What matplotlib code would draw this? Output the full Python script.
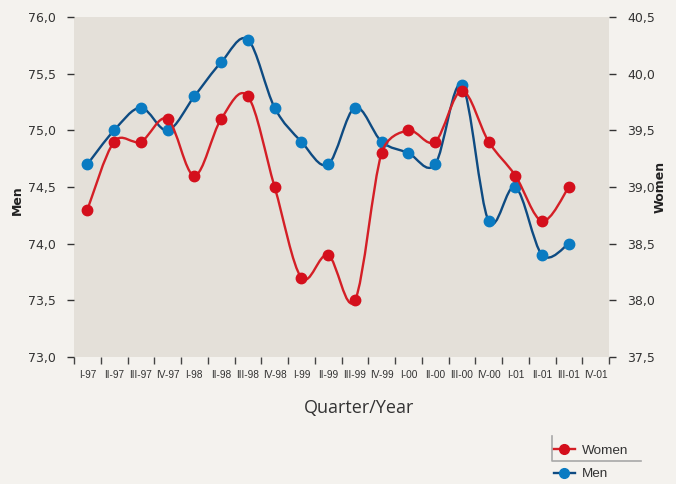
import numpy as np
import matplotlib.pyplot as plt
from matplotlib.path import Path
from matplotlib.patches import PathPatch
from matplotlib.lines import Line2D
from matplotlib.ticker import FuncFormatter, MultipleLocator

quarters = ["I-97", "II-97", "III-97", "IV-97", "I-98", "II-98", "III-98", "IV-98",
            "I-99", "II-99", "III-99", "IV-99", "I-00", "II-00", "III-00", "IV-00",
            "I-01", "II-01", "III-01", "IV-01"]
men = [74.7, 75.0, 75.2, 75.0, 75.3, 75.6, 75.8, 75.2, 74.9, 74.7, 75.2,
       74.9, 74.8, 74.7, 75.4, 74.2, 74.5, 73.9, 74.0]
women = [38.8, 39.4, 39.4, 39.6, 39.1, 39.6, 39.8, 39.0, 38.2, 38.4, 38.0,
         39.3, 39.5, 39.4, 39.85, 39.4, 39.1, 38.7, 39.0]

BG = "#f4f2ee"
PLOT_BG = "#e4e0d9"
RED_LINE = "#d41f26"
RED_MARK = "#d40f1c"
BLUE_LINE = "#0e4b82"
BLUE_MARK = "#0a7bc2"
TXT = "#333333"


def smooth_path(a, xs, ys):
    # excel-style smoothed line: bezier segments, handles limited to half a segment
    pts = a.transData.transform(np.column_stack([xs, ys]))
    n = len(pts)
    verts = [pts[0]]
    codes = [Path.MOVETO]
    for i in range(n - 1):
        p0, p1, p2, p3 = pts[max(i - 1, 0)], pts[i], pts[i + 1], pts[min(i + 2, n - 1)]
        d12 = np.hypot(*(p2 - p1))
        d02 = np.hypot(*(p2 - p0))
        d13 = np.hypot(*(p3 - p1))
        f1 = 1 / 6 if d02 / 6 < d12 / 2 else d12 / (2 * d02)
        f2 = 1 / 6 if d13 / 6 < d12 / 2 else d12 / (2 * d13)
        verts += [p1 + (p2 - p0) * f1, p2 - (p3 - p1) * f2, p2]
        codes += [Path.CURVE4] * 3
    verts = a.transData.inverted().transform(np.array(verts))
    return Path(verts, codes)


fig = plt.figure(figsize=(6.76, 4.84), dpi=100, facecolor=BG)
ax = fig.add_axes([74 / 676, 1 - 357 / 484, 535 / 676, 340 / 484])
ax.set_facecolor(PLOT_BG)
ax2 = ax.twinx()

ax.set_xlim(-0.5, len(quarters) - 0.5)
ax.set_ylim(73.0, 76.0)
ax2.set_ylim(37.5, 40.5)

x = list(range(len(men)))

ax.add_patch(PathPatch(smooth_path(ax, x, men), fill=False, ec=BLUE_LINE, lw=1.7, zorder=2))
ax.plot(x, men, "o", ms=7.5, mfc=BLUE_MARK, mec=BLUE_MARK, zorder=3)
ax2.add_patch(PathPatch(smooth_path(ax2, x, women), fill=False, ec=RED_LINE, lw=1.7, zorder=2))
ax2.plot(x, women, "o", ms=7.5, mfc=RED_MARK, mec=RED_MARK, zorder=3)

comma = FuncFormatter(lambda v, p: f"{v:.1f}".replace(".", ","))
for a in (ax, ax2):
    a.yaxis.set_major_locator(MultipleLocator(0.5))
    a.yaxis.set_major_formatter(comma)
    for s in a.spines.values():
        s.set_visible(False)
    a.tick_params(axis="y", length=5, width=1, color=TXT, labelcolor=TXT,
                  labelsize=9, pad=8)

ax.set_xticks(range(len(quarters)))
ax.set_xticklabels(quarters, fontfamily="Liberation Sans", fontsize=7.3, color=TXT)
ax.set_xticks([i - 0.5 for i in range(len(quarters) + 1)], minor=True)
ax.tick_params(axis="x", which="major", length=0, pad=9)
ax.tick_params(axis="x", which="minor", length=5, width=1, color="#444444")

fig.text(359 / 676, 1 - 408 / 484, "Quarter/Year", ha="center", va="center",
         fontsize=13, color=TXT, fontfamily="Open Sans")
fig.text(17 / 676, 1 - 200 / 484, "Men", rotation=90, ha="center", va="center",
         fontsize=9, fontweight="bold", color="#222222")
fig.text(660 / 676, 1 - 187 / 484, "Women", rotation=90, ha="center", va="center",
         fontsize=9, fontweight="bold", color="#222222")

handles = [Line2D([], [], color=RED_LINE, lw=1.7, marker="o", ms=7, mfc=RED_MARK, mec=RED_MARK),
           Line2D([], [], color=BLUE_LINE, lw=1.7, marker="o", ms=7, mfc=BLUE_MARK, mec=BLUE_MARK)]
leg = fig.legend(handles, ["Women", "Men"], loc="upper left",
                 bbox_to_anchor=(551 / 676, 1 - 442 / 484), frameon=False,
                 handlelength=1.6, handletextpad=0.5, labelspacing=0.8,
                 borderaxespad=0, borderpad=0.2,
                 prop={"family": "Liberation Sans", "size": 9.7})
for t in leg.get_texts():
    t.set_color(TXT)

fig.add_artist(Line2D([552 / 676, 552 / 676, 641 / 676],
                      [1 - 436 / 484, 1 - 461 / 484, 1 - 461 / 484],
                      color="#a8a8a8", lw=1.2))

fig.savefig("out.png", dpi=100, facecolor=BG)
